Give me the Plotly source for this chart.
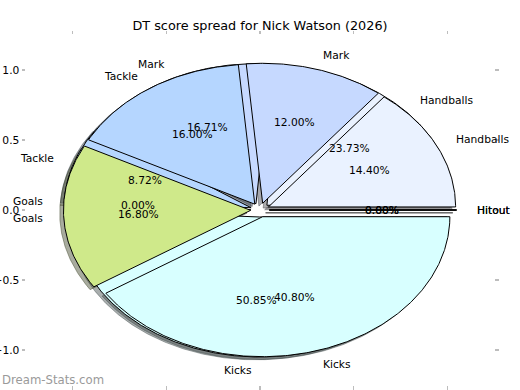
import numpy as np
import plotly.graph_objects as go

# ---- data -------------------------------------------------------------
categories = ["Hitout", "Handballs", "Mark", "Tackle", "Goals", "Kicks"]
dt_share = [0.00, 23.73, 16.71, 8.72, 0.00, 50.85]       # pie drawn first (underneath)
stat_share = [0.00, 14.40, 12.00, 16.00, 16.80, 40.80]   # pie drawn second (on top)
colors = ["#dddddd", "#eaf2ff", "#c6d9ff", "#b5d6ff", "#cfe98a", "#d8ffff"]
tick_values = [-1.0, -0.5, 0.0, 0.5, 1.0]
title_text = "DT score spread for Nick Watson (2026)"
watermark = "Dream-Stats.com"

EXPLODE = 0.05
LABEL_DIST = 1.1
PCT_DIST = 0.6
SHADOW_OFF = (-0.02, -0.02)
FONT = "DejaVu Sans"


def hex_rgb(h):
    h = h.lstrip("#")
    return tuple(int(h[i:i + 2], 16) for i in (0, 2, 4))


def wedge_xy(t1, t2, cx, cy, r=1.0):
    n = max(2, int(abs(t2 - t1) * 2) + 2)
    th = np.radians(np.linspace(t1, t2, n))
    xs = np.concatenate([[cx], cx + r * np.cos(th), [cx]])
    ys = np.concatenate([[cy], cy + r * np.sin(th), [cy]])
    return xs, ys


def pie_geometry(values):
    total = float(sum(values))
    out = []
    theta1 = 0.0
    for v in values:
        theta2 = theta1 + 360.0 * v / total
        mid = np.radians((theta1 + theta2) / 2)
        cx, cy = EXPLODE * np.cos(mid), EXPLODE * np.sin(mid)
        out.append((theta1, theta2, mid, cx, cy))
        theta1 = theta2
    return out


pies = [dt_share, stat_share]
geoms = [pie_geometry(p) for p in pies]

fig = go.Figure()

# shadows (all below every wedge, like matplotlib's zorder)
for geom in geoms:
    for (t1, t2, mid, cx, cy), col in zip(geom, colors):
        xs, ys = wedge_xy(t1, t2, cx + SHADOW_OFF[0], cy + SHADOW_OFF[1])
        r, g, b = hex_rgb(col)
        sc = f"rgba({int(r*0.3)},{int(g*0.3)},{int(b*0.3)},0.45)"
        fig.add_trace(go.Scatter(x=xs, y=ys, mode="lines", fill="toself",
                                 fillcolor=sc, line=dict(color=sc, width=1),
                                 hoverinfo="skip", showlegend=False))

# wedges
for geom in geoms:
    for (t1, t2, mid, cx, cy), col in zip(geom, colors):
        xs, ys = wedge_xy(t1, t2, cx, cy)
        fig.add_trace(go.Scatter(x=xs, y=ys, mode="lines", fill="toself",
                                 fillcolor=col, line=dict(color="black", width=1),
                                 hoverinfo="skip", showlegend=False))

annotations = []
for values, geom in zip(pies, geoms):
    for v, name, (t1, t2, mid, cx, cy) in zip(values, categories, geom):
        xl = cx + LABEL_DIST * np.cos(mid)
        yl = cy + LABEL_DIST * np.sin(mid)
        annotations.append(dict(x=xl, y=yl, xref="x", yref="y", text=name,
                                showarrow=False,
                                xanchor="left" if xl > 0 else "right",
                                yanchor="middle",
                                font=dict(family=FONT, size=10.7, color="black")))
        xp = cx + PCT_DIST * np.cos(mid)
        yp = cy + PCT_DIST * np.sin(mid)
        annotations.append(dict(x=xp, y=yp, xref="x", yref="y", text=f"{v:.2f}%",
                                showarrow=False, xanchor="center", yanchor="middle",
                                font=dict(family=FONT, size=10.7, color="black")))

annotations.append(dict(x=-26 / 468, y=5 / 350, xref="paper", yref="paper",
                        text=watermark, showarrow=False, xanchor="left",
                        yanchor="middle",
                        font=dict(family=FONT, size=11.7, color="#9a9a9a")))

axis_common = dict(range=[-1.25, 1.25], showgrid=False, zeroline=False,
                   showline=False, ticks="outside", ticklen=3.5, tickwidth=1.2,
                   tickcolor="#bdbdbd", mirror="ticks", tickvals=tick_values,
                   tickformat=".1f", automargin=False,
                   tickfont=dict(family=FONT, size=10.7, color="black"),
                   fixedrange=True)

fig.update_layout(
    width=520, height=390, autosize=False,
    margin=dict(l=26, r=26, t=35, b=5),
    paper_bgcolor="white", plot_bgcolor="white",
    xaxis=axis_common, yaxis=axis_common,
    title=dict(text=title_text, x=0.5, xanchor="center",
               y=1 - 26 / 390, yanchor="middle",
               font=dict(family=FONT, size=12.8, color="black")),
    annotations=annotations,
    showlegend=False,
)

fig.write_html(
    "out.html",
    config={"displayModeBar": False, "staticPlot": True},
    post_script="document.body.style.margin='0px';document.body.style.overflow='hidden';",
)
